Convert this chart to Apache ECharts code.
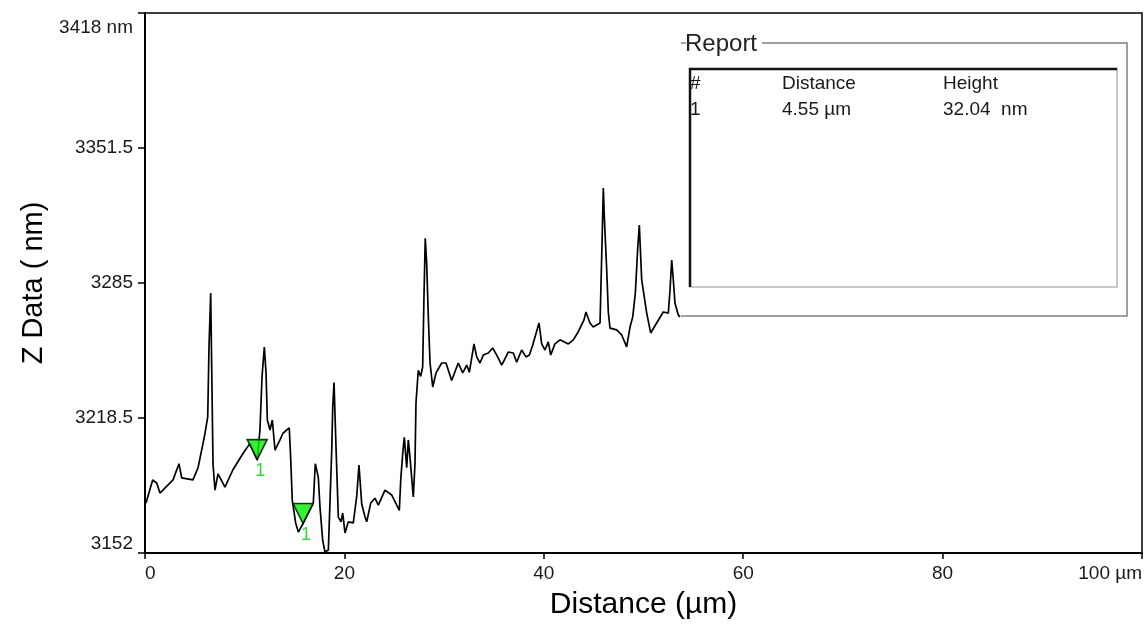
<!DOCTYPE html>
<html lang="en">

<head>
    <meta charset=utf-8>
    <title>Z DATA PROFILE</title>
    <style>
        html, body { margin: 0; padding: 0; background: #fff; }
        #main { width: 1146px; height: 625px; }
    </style>
</head>

<body>
    <div id="main"></div>
    <script src="https://cdn.jsdelivr.net/npm/echarts@6/dist/echarts.min.js"></script>
    <script>
    // profile, distance in µm
    var distance = [
        0.10, 0.77, 1.17, 1.50, 2.81, 3.41, 3.68, 4.81, 5.32, 5.82, 6.02, 6.29, 6.42, 6.59, 6.69, 6.82,
        7.02, 7.32, 8.02, 8.82, 9.83, 10.53, 11.25, 11.53, 11.74, 11.97, 12.14, 12.27, 12.54, 12.77,
        13.04, 13.54, 13.84, 14.47, 14.61, 14.77, 15.11, 15.38, 15.85, 16.88, 17.08, 17.38, 17.55,
        17.82, 18.05, 18.39, 18.56, 18.73, 18.83, 18.96, 19.16, 19.39, 19.66, 19.83, 20.06, 20.39,
        20.89, 21.23, 21.46, 21.74, 22.07, 22.24, 22.64, 23.07, 23.40, 24.07, 24.74, 25.51, 25.65,
        25.85, 26.01, 26.25, 26.41, 26.58, 26.91, 27.08, 27.18, 27.41, 27.65, 27.85, 27.98, 28.11,
        28.25, 28.42, 28.59, 28.86, 29.19, 29.76, 30.19, 30.76, 31.42, 31.87, 32.27, 32.53, 33.00,
        33.27, 33.60, 33.93, 34.43, 34.87, 35.28, 35.78, 36.44, 36.94, 37.28, 37.78, 38.21, 38.55,
        38.89, 39.52, 39.79, 40.12, 40.45, 40.69, 41.12, 41.62, 42.46, 42.96, 43.46, 44.03, 44.23,
        44.63, 44.96, 45.64, 45.81, 45.97, 46.07, 46.31, 46.47, 46.64, 47.31, 47.81, 48.31, 48.65,
        48.92, 49.18, 49.42, 49.58, 49.82, 50.32, 50.72, 51.32, 51.98, 52.49, 52.66, 52.83, 52.99,
        53.16, 53.49, 53.66
    ];
    // z height in nm
    var zData = [
        3176.6, 3188, 3186.5, 3181.5, 3188, 3196, 3189, 3188, 3194, 3206, 3211, 3219, 3253.5, 3280, 3243.6, 3196,
        3183, 3191, 3184.5, 3193, 3201, 3206, 3198, 3212.6, 3239, 3253.5, 3240.7, 3217.5, 3212.6, 3217.5,
        3202.7, 3207.7, 3211, 3213.6, 3199, 3178, 3166.8, 3162.3, 3166.5, 3176.6, 3196, 3189.4, 3174.7,
        3158.4, 3152.5, 3153.5, 3178, 3202.7, 3224, 3236, 3204, 3169.7, 3167.3, 3171.7, 3161.9, 3167.3,
        3166.8, 3179.6, 3195.3, 3176, 3169.7, 3167.4, 3176.6, 3179, 3175.6, 3183, 3180.6, 3173, 3188,
        3201, 3209, 3194, 3207.7, 3199, 3179.6, 3196, 3226, 3242, 3239, 3243.6, 3278, 3307,
        3294.9, 3268, 3245.6, 3233.8, 3240.7, 3245.6, 3245.6, 3237, 3245.6, 3240.7, 3244.6, 3241, 3255,
        3248.6, 3245.6, 3249.5, 3250.5, 3253, 3249.5, 3244.6, 3251, 3250.5, 3246, 3252, 3248.6, 3249.5,
        3254.5, 3265.3, 3255, 3252, 3256, 3249.5, 3255, 3257, 3255, 3257, 3261, 3266.8, 3270.7,
        3265.3, 3263.3, 3265.3, 3298.8, 3331.8, 3317.5, 3291.4, 3270.7, 3262.8, 3261.9, 3259.4, 3253.5, 3263.3,
        3268.3, 3280, 3302, 3313.6, 3286.5, 3270.2, 3260.4, 3265.3, 3270.7, 3270.2, 3281.6, 3296.3, 3286.5,
        3275, 3269.2, 3268.3
    ];
    // cursor markers
    var markerX = [11.25, 15.85];
    var markerZ = [3198, 3166.5];
    var markerLabels = ['1', '1'];

    var reportHeader = ['#', 'Distance', 'Height'];
    var reportRow = ['1', '4.55 µm', '32.04  nm'];

    var FONT = '"Liberation Sans", Arial, sans-serif';

    var chart = echarts.init(document.getElementById('main'));

    var lineData = distance.map(function (d, i) { return [d, zData[i]]; });
    var markerData = markerX.map(function (d, i) { return [d, markerZ[i], markerLabels[i]]; });

    function reportText(x, y, text, size) {
        return {
            type: 'text', left: x, top: y, z: 12,
            style: { text: text, fill: '#1a1a1a', font: size + 'px ' + FONT }
        };
    }

    var option = {
        backgroundColor: '#fff',
        animation: false,
        grid: {
            left: 145, right: 4, top: 13, bottom: 72,
            show: true, borderColor: '#000', borderWidth: 1.5
        },
        xAxis: {
            type: 'value', min: 0, max: 100, interval: 20,
            name: 'Distance (µm)', nameLocation: 'middle', nameGap: 37,
            nameTextStyle: { color: '#000', fontSize: 30, fontFamily: FONT },
            axisLine: { lineStyle: { color: '#000', width: 2 } },
            axisTick: { length: 6, lineStyle: { color: '#000', width: 1.5 } },
            axisLabel: {
                color: '#1a1a1a', fontSize: 19, fontFamily: FONT, margin: 11,
                alignMinLabel: 'left', alignMaxLabel: 'right',
                formatter: function (v) { return v === 100 ? '100 µm' : String(v); }
            },
            splitLine: { show: false }
        },
        yAxis: {
            type: 'value', min: 3152, max: 3418, interval: 66.5,
            name: 'Z Data ( nm)', nameLocation: 'middle', nameGap: 97,
            nameTextStyle: { color: '#000', fontSize: 29, fontFamily: FONT },
            axisLine: { lineStyle: { color: '#000', width: 2 } },
            axisTick: { length: 7, lineStyle: { color: '#000', width: 1.5 } },
            axisLabel: {
                color: '#1a1a1a', fontSize: 19, fontFamily: FONT, margin: 12,
                verticalAlignMinLabel: 'bottom', verticalAlignMaxLabel: 'top',
                formatter: function (v) { return v === 3418 ? '{t|3418 nm}' : String(v); },
                rich: { t: { fontSize: 19, fontFamily: FONT, color: '#1a1a1a', padding: [5, 0, 0, 0] } }
            },
            splitLine: { show: false }
        },
        series: [
            {
                type: 'line',
                data: lineData,
                symbol: 'none',
                lineStyle: { color: '#000', width: 1.7 },
                z: 2
            },
            {
                type: 'scatter',
                data: markerData,
                symbol: 'path://M0,0L20,0L10,20Z',
                symbolSize: [20, 20],
                symbolOffset: [0, -10],
                itemStyle: { color: '#00f000', borderColor: '#000', borderWidth: 1.6 },
                label: {
                    show: true, position: 'inside', offset: [3, 21],
                    formatter: function (p) { return p.data[2]; },
                    color: '#00d000', fontSize: 18, fontFamily: FONT
                },
                z: 3
            }
        ],
        graphic: [
            // outer group box
            { type: 'rect', shape: { x: 681, y: 43, width: 446, height: 273 },
              style: { fill: '#fff', stroke: null }, z: 10 },
            { type: 'polyline', shape: { points: [[681, 43], [686, 43]] },
              style: { stroke: '#808080', lineWidth: 1.5 }, z: 11 },
            { type: 'polyline', shape: { points: [[762, 43], [1127, 43], [1127, 316], [681, 316]] },
              style: { stroke: '#808080', fill: null, lineWidth: 1.5 }, z: 11 },
            { type: 'text', left: 685, top: 32,
              style: { text: 'Report', fill: '#222', font: '24px ' + FONT }, z: 12 },
            // inner sunken table
            reportText(690, 74, reportHeader[0], 19),
            reportText(782, 74, reportHeader[1], 19),
            reportText(943, 74, reportHeader[2], 19),
            reportText(690, 100, reportRow[0], 19),
            reportText(782, 100, reportRow[1], 19),
            reportText(943, 100, reportRow[2], 19),
            { type: 'polyline', shape: { points: [[1117, 68], [1117, 287], [690, 287]] },
              style: { stroke: '#c8c8c8', fill: null, lineWidth: 2 }, z: 11 },
            { type: 'polyline', shape: { points: [[690, 287], [690, 69], [1117, 69]] },
              style: { stroke: '#111', fill: null, lineWidth: 2.5 }, z: 12 }
        ]
    };

    chart.setOption(option);
    </script>
</body>

</html>
